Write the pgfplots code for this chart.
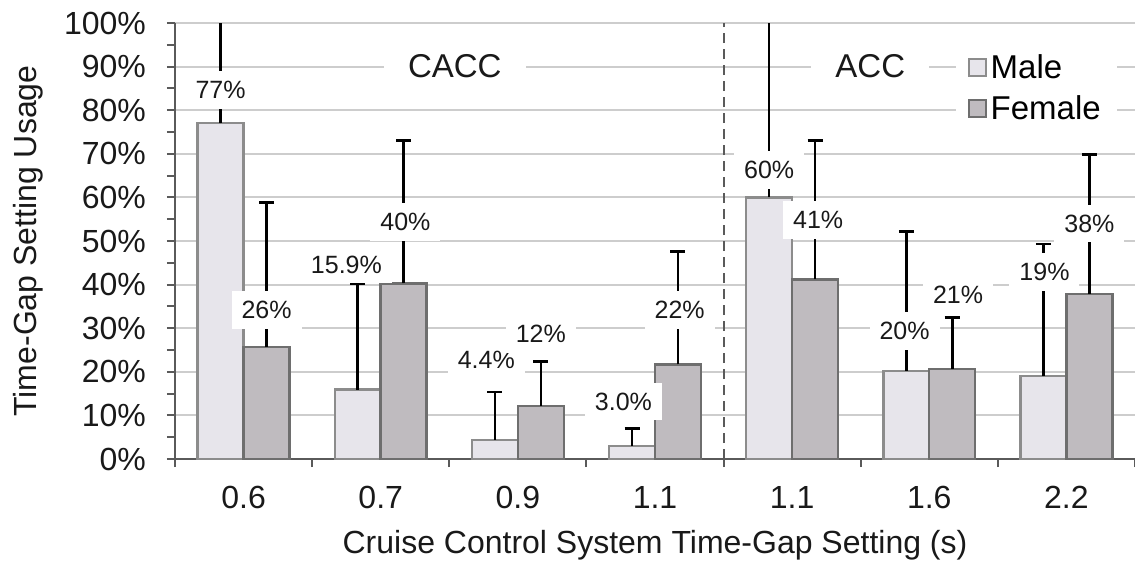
\documentclass[border=0pt]{standalone}
\usepackage{fontspec}
\setmainfont{Liberation Sans}
\usepackage{pgfplots}
\usepackage{pgfplotstable}
\pgfplotsset{compat=1.18}
\definecolor{maleFill}{HTML}{E7E5EB}
\definecolor{maleDraw}{HTML}{8C8C8C}
\definecolor{femFill}{HTML}{BFBBBF}
\definecolor{femDraw}{HTML}{6E6E6E}
\definecolor{gridc}{HTML}{CDCDCD}
\definecolor{axc}{HTML}{5A5A5A}
\tikzset{lbl/.style={fill=white, inner xsep=5pt, inner ysep=5pt, font=\fontsize{12.5}{12.5}\selectfont, text=black!90}}

\pgfplotstableread{
x y ey
0 77 40
1 15.9 24.2
2 4.4 11.0
3 3.0 4.0
4 60 50
5 20.2 32.0
6 19 30.3
}\male
\pgfplotstableread{
x y ey
0 25.7 33.1
1 40.3 32.8
2 12.2 10.2
3 21.7 25.9
4 41.2 31.8
5 20.6 11.9
6 37.8 32.0
}\female

\begin{document}
\begin{tikzpicture}
\path[use as bounding box] (-87.5pt,-55.5pt) rectangle (480pt,229.5pt);
\begin{axis}[
  at={(0,0)}, anchor=south west,
  scale only axis, width=480pt, height=218pt,
  xmin=-0.5, xmax=6.5, ymin=0, ymax=100,
  axis lines*=left,
  axis line style={-, draw=axc, line width=1pt},
  ytick={0,10,...,100},
  yticklabels={0\%,10\%,20\%,30\%,40\%,50\%,60\%,70\%,80\%,90\%,100\%},
  minor y tick num=1,
  ymajorgrids,
  grid style={draw=gridc, line width=1pt},
  xtick={0,...,6},
  xticklabels={0.6,0.7,0.9,1.1,1.1,1.6,2.2},
  minor xtick={-0.5,0.5,...,6.5},
  tick style={draw=axc, line width=1pt},
  major x tick style={draw=none},
  major tick length=4pt, minor tick length=4pt,
  tick align=outside,
  tick label style={font=\fontsize{16}{16}\selectfont, text=black!90},
  yticklabel style={xshift=-7pt},
  xticklabel style={yshift=-6pt},
  label style={font=\fontsize{16}{16}\selectfont, text=black!90},
  xlabel={Cruise Control System Time-Gap Setting (s)},
  ylabel={Time-Gap Setting Usage},
  xlabel style={at={(axis description cs:0.5,-0.197)}, anchor=center},
  ylabel style={at={(axis description cs:-0.153,0.5)}, anchor=center},
  legend style={at={(axis cs:5.19,85)}, anchor=west, draw=none, fill=white,
    font=\fontsize{16.5}{16.5}\selectfont, inner xsep=6pt, inner ysep=4pt, row sep=3pt},
  legend cell align=left,
  legend image code/.code={\draw[#1, line width=1pt] (0pt,-4.25pt) rectangle (8.5pt,4.25pt);},
]
\addplot[ybar, bar width=23pt, bar shift=0pt, fill=maleFill, draw=maleDraw, line width=1.2pt,
  error bars/.cd, y dir=plus, y explicit,
  error bar style={line width=1.3pt, black},
  error mark options={rotate=90, mark size=3.75pt, line width=1.3pt, black}]
  table[x expr=\thisrow{x}-0.1675, y=y, y error=ey] {\male};
\addlegendentry{Male}
\addplot[ybar, bar width=23pt, bar shift=0pt, fill=femFill, draw=femDraw, line width=1.2pt,
  error bars/.cd, y dir=plus, y explicit,
  error bar style={line width=1.3pt, black},
  error mark options={rotate=90, mark size=3.75pt, line width=1.3pt, black}]
  table[x expr=\thisrow{x}+0.1675, y=y, y error=ey] {\female};
\addlegendentry{Female}
\addplot[forget plot, draw=axc, line width=1pt, dash pattern=on 5pt off 3pt] coordinates {(3.5,0) (3.5,100)};

\node[lbl] at (axis cs:-0.1675,84.6) {77\%};
\node[lbl] at (axis cs:0.1675,34.2) {26\%};
\node[lbl] at (axis cs:0.75,44.6) {15.9\%};
\node[lbl] at (axis cs:1.18,54.4) {40\%};
\node[lbl] at (axis cs:1.77,22.8) {4.4\%};
\node[lbl] at (axis cs:2.1675,28.7) {12\%};
\node[lbl] at (axis cs:2.77,13.2) {3.0\%};
\node[lbl] at (axis cs:3.18,34.2) {22\%};
\node[lbl] at (axis cs:3.8325,66.3) {60\%};
\node[lbl] at (axis cs:4.19,54.8) {41\%};
\node[lbl] at (axis cs:4.82,29.3) {20\%};
\node[lbl] at (axis cs:5.21,37.6) {21\%};
\node[lbl] at (axis cs:5.84,42.9) {19\%};
\node[lbl] at (axis cs:6.1675,54.0) {38\%};
\node[fill=white, inner xsep=12pt, inner ysep=4pt, font=\fontsize{16.5}{16.5}\selectfont, text=black!90] at (axis cs:1.54,90) {CACC};
\node[fill=white, inner xsep=12pt, inner ysep=4pt, font=\fontsize{16.5}{16.5}\selectfont, text=black!90] at (axis cs:4.57,90) {ACC};
\end{axis}
\end{tikzpicture}
\end{document}
